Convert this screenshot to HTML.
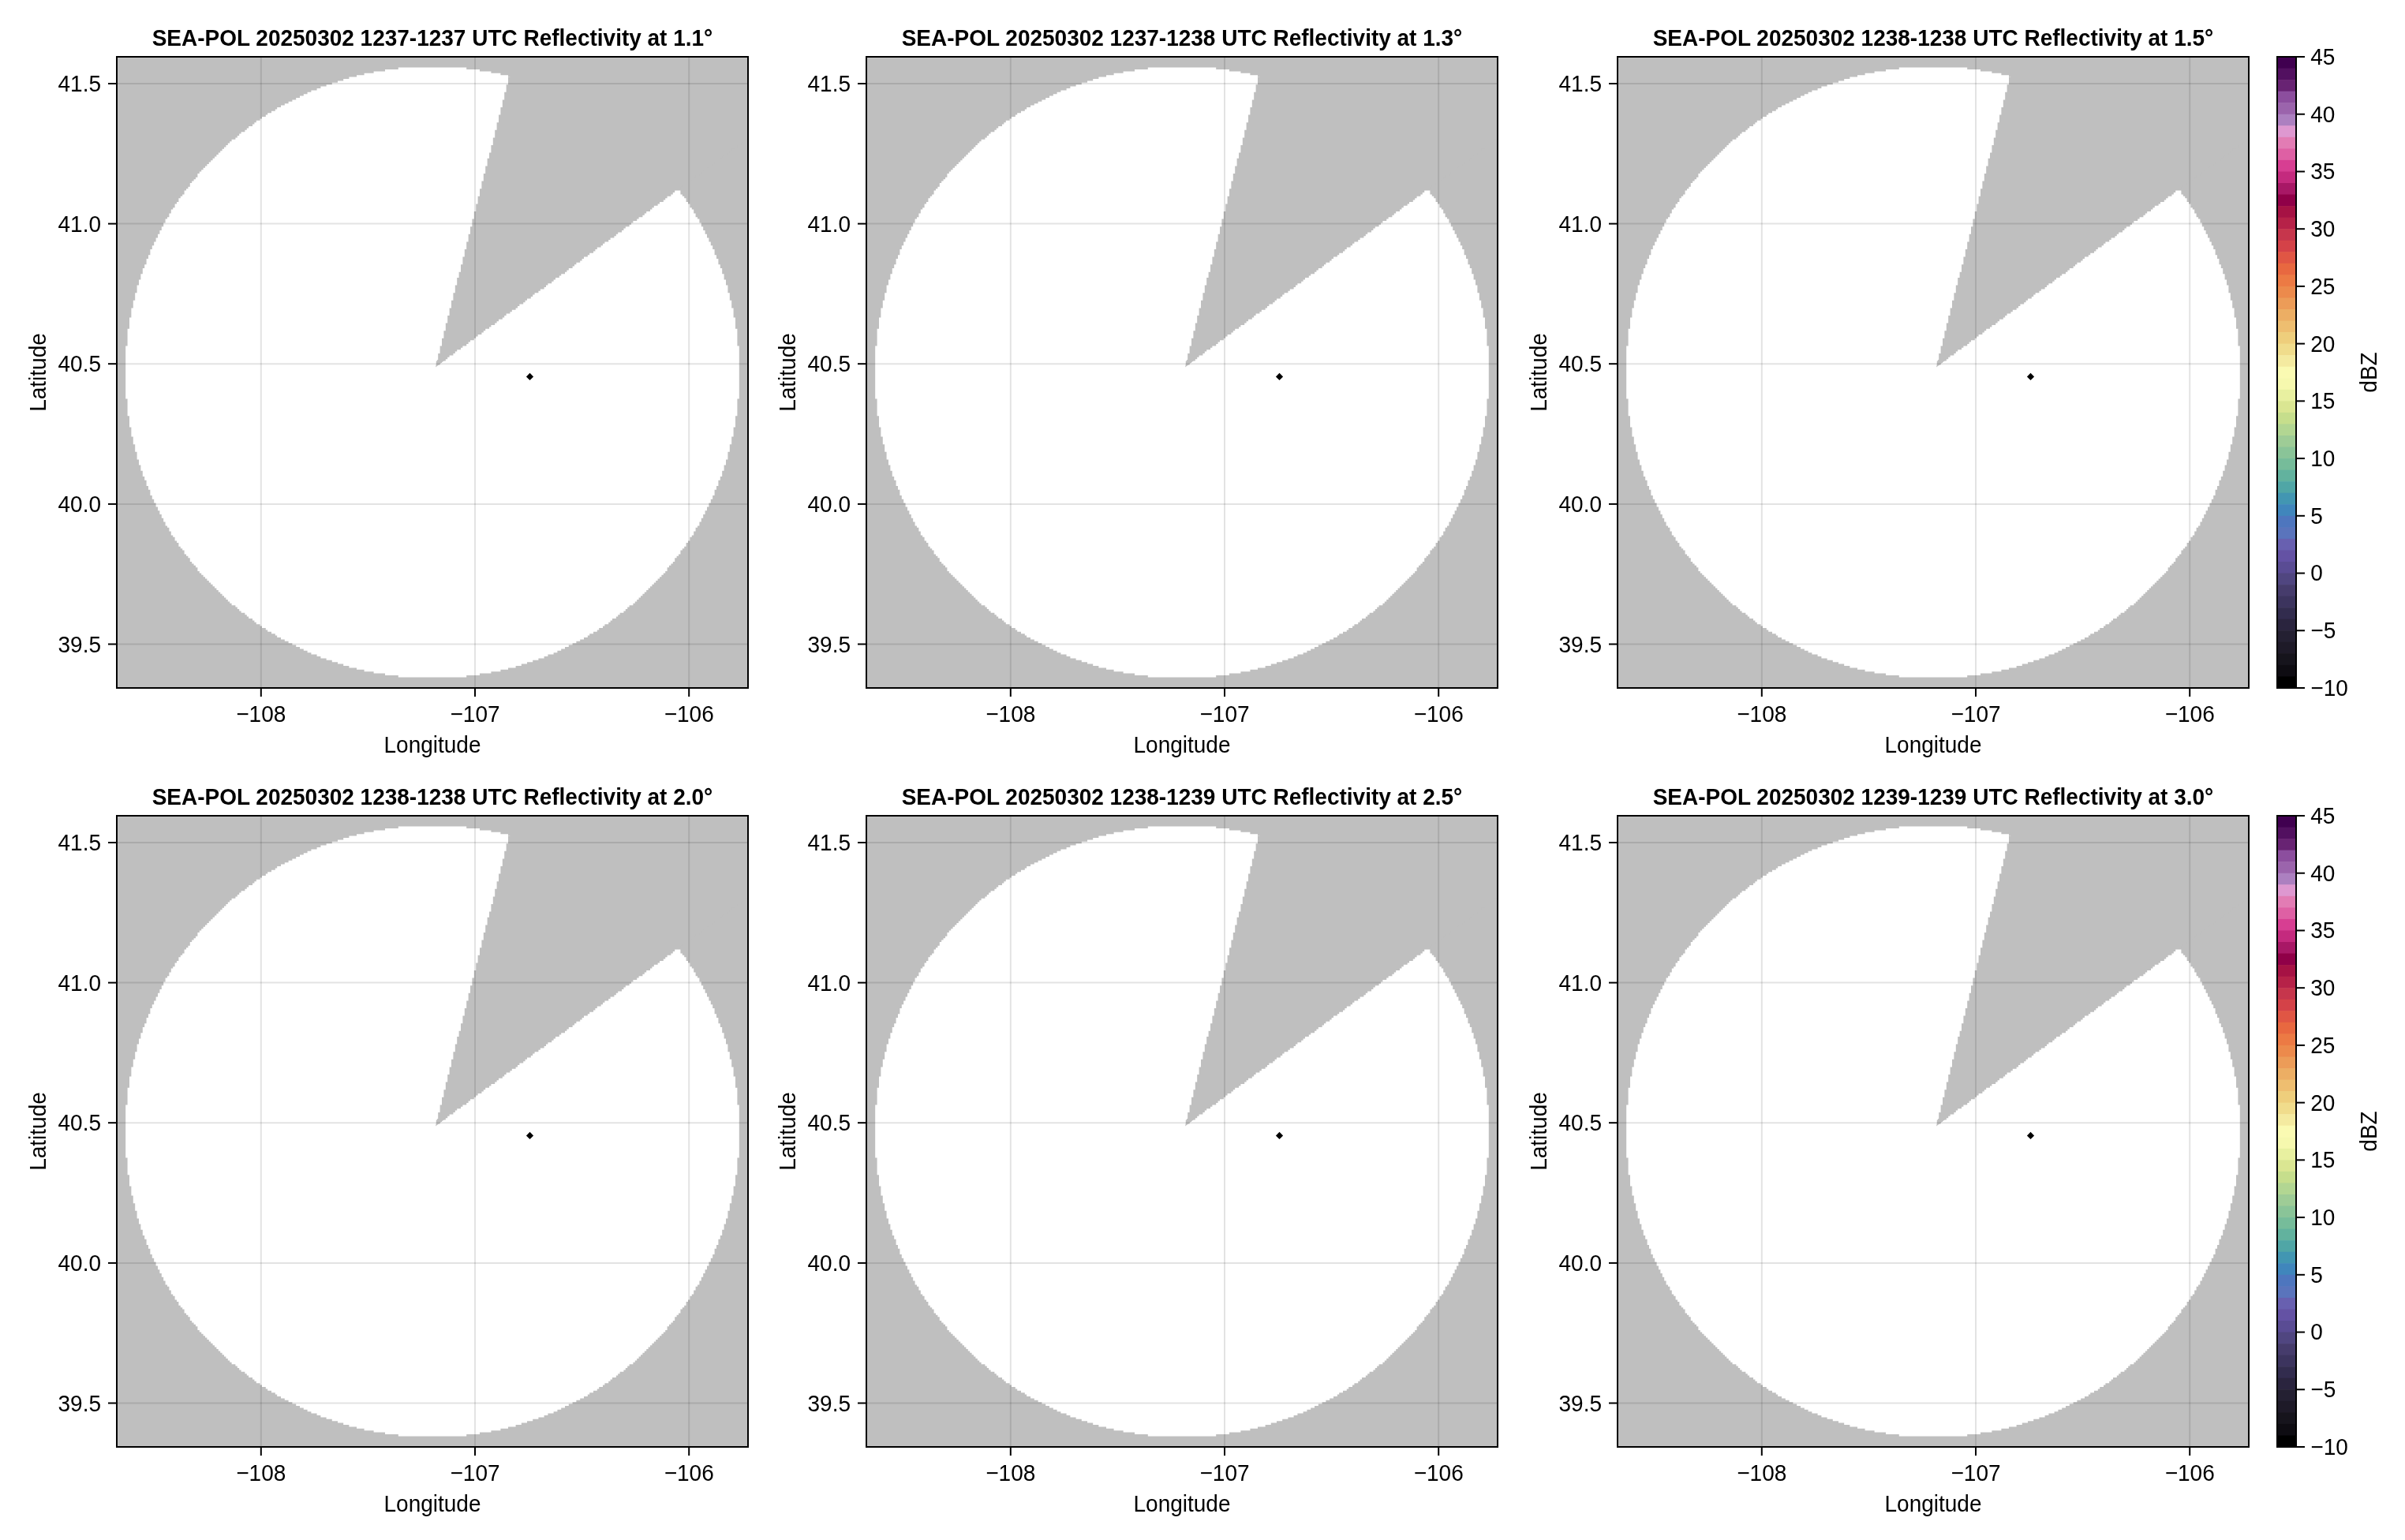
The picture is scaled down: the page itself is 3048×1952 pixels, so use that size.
<!DOCTYPE html>
<html><head><meta charset="utf-8"><title>SEA-POL Reflectivity</title>
<style>
html,body{margin:0;padding:0;background:#fff;}
body{width:3048px;height:1952px;overflow:hidden;font-family:"Liberation Sans", sans-serif;}
svg{display:block;font-family:"Liberation Sans", sans-serif;will-change:transform;}
.t{font-size:28px;font-weight:bold;text-anchor:middle;fill:#000;}
.l{font-size:28px;text-anchor:middle;fill:#000;}
.yt{font-size:28px;text-anchor:end;fill:#000;}
.xt{font-size:28px;text-anchor:middle;fill:#000;}
.ct{font-size:28px;text-anchor:start;fill:#000;}
</style></head><body>
<svg width="3048" height="1952" viewBox="0 0 3048 1952">
<rect x="0" y="0" width="3048" height="1952" fill="#ffffff"/>
<defs>
<clipPath id="pc"><rect x="0" y="0" width="800" height="800"/></clipPath>
<g id="wr" clip-path="url(#pc)"><path d="M356.8,13.6V16H340V18.4H325.6V20.8H313.6V23.2H304V25.6H294.4V28H287.2V30.4H280V32.8H272.8V35.2H265.6V37.6H258.4V40H253.6V42.4H246.4V44.8H241.6V47.2H236.8V49.6H232V52H227.2V54.4H222.4V56.8H217.6V59.2H212.8V61.6H208V64H203.2V66.4H200.8V68.8H196V71.2H191.2V73.6H188.8V76H184V78.4H181.6V80.8H176.8V83.2H174.4V85.6H172V88H167.2V90.4H164.8V92.8H162.4V95.2H157.6V97.6H155.2V100H152.8V102.4H150.4V104.8H145.6V107.2H143.2V109.6H140.8V112H138.4V114.4H136V116.8H133.6V119.2H131.2V121.6H128.8V124H126.4V126.4H124V128.8H121.6V131.2H119.2V133.6H116.8V136H114.4V138.4H112V140.8H109.6V143.2H107.2V145.6H104.8V148H102.4V150.4V152.8H100V155.2H97.6V157.6H95.2V160H92.8V162.4V164.8H90.4V167.2H88V169.6H85.6V172V174.4H83.2V176.8H80.8V179.2H78.4V181.6V184H76V186.4H73.6V188.8V191.2H71.2V193.6H68.8V196V198.4H66.4V200.8V203.2H64V205.6H61.6V208V210.4H59.2V212.8V215.2H56.8V217.6V220H54.4V222.4V224.8H52V227.2V229.6H49.6V232V234.4H47.2V236.8V239.2H44.8V241.6V244H42.4V246.4V248.8V251.2H40V253.6V256H37.6V258.4V260.8V263.2H35.2V265.6V268H32.8V270.4V272.8V275.2H30.4V277.6V280V282.4H28V284.8V287.2V289.6H25.6V292V294.4V296.8V299.2H23.2V301.6V304V306.4V308.8H20.8V311.2V313.6V316V318.4H18.4V320.8V323.2V325.6V328V330.4H16V332.8V335.2V337.6V340V342.4V344.8H13.6V347.2V349.6V352V354.4V356.8V359.2V361.6V364V366.4H11.2V368.8V371.2V373.6V376V378.4V380.8V383.2V385.6V388V390.4V392.8V395.2V397.6V400V402.4V404.8V407.2V409.6V412V414.4V416.8V419.2V421.6V424V426.4V428.8V431.2V433.6H13.6V436V438.4V440.8V443.2V445.6V448V450.4V452.8V455.2H16V457.6V460V462.4V464.8V467.2V469.6H18.4V472V474.4V476.8V479.2V481.6H20.8V484V486.4V488.8V491.2H23.2V493.6V496V498.4V500.8H25.6V503.2V505.6V508V510.4H28V512.8V515.2V517.6H30.4V520V522.4V524.8H32.8V527.2V529.6V532H35.2V534.4V536.8H37.6V539.2V541.6V544H40V546.4V548.8H42.4V551.2V553.6V556H44.8V558.4V560.8H47.2V563.2V565.6H49.6V568V570.4H52V572.8V575.2H54.4V577.6V580H56.8V582.4V584.8H59.2V587.2V589.6H61.6V592V594.4H64V596.8H66.4V599.2V601.6H68.8V604V606.4H71.2V608.8H73.6V611.2V613.6H76V616H78.4V618.4V620.8H80.8V623.2H83.2V625.6H85.6V628V630.4H88V632.8H90.4V635.2H92.8V637.6V640H95.2V642.4H97.6V644.8H100V647.2H102.4V649.6V652H104.8V654.4H107.2V656.8H109.6V659.2H112V661.6H114.4V664H116.8V666.4H119.2V668.8H121.6V671.2H124V673.6H126.4V676H128.8V678.4H131.2V680.8H133.6V683.2H136V685.6H138.4V688H140.8V690.4H143.2V692.8H145.6V695.2H150.4V697.6H152.8V700H155.2V702.4H157.6V704.8H162.4V707.2H164.8V709.6H167.2V712H172V714.4H174.4V716.8H176.8V719.2H181.6V721.6H184V724H188.8V726.4H191.2V728.8H196V731.2H200.8V733.6H203.2V736H208V738.4H212.8V740.8H217.6V743.2H222.4V745.6H227.2V748H232V750.4H236.8V752.8H241.6V755.2H246.4V757.6H253.6V760H258.4V762.4H265.6V764.8H272.8V767.2H280V769.6H287.2V772H294.4V774.4H304V776.8H313.6V779.2H325.6V781.6H340V784H356.8V786.4H443.2V784H460V781.6H474.4V779.2H486.4V776.8H496V774.4H505.6V772H512.8V769.6H520V767.2H527.2V764.8H534.4V762.4H541.6V760H546.4V757.6H553.6V755.2H558.4V752.8H563.2V750.4H568V748H572.8V745.6H577.6V743.2H582.4V740.8H587.2V738.4H592V736H596.8V733.6H599.2V731.2H604V728.8H608.8V726.4H611.2V724H616V721.6H618.4V719.2H623.2V716.8H625.6V714.4H628V712H632.8V709.6H635.2V707.2H637.6V704.8H642.4V702.4H644.8V700H647.2V697.6H649.6V695.2H654.4V692.8H656.8V690.4H659.2V688H661.6V685.6H664V683.2H666.4V680.8H668.8V678.4H671.2V676H673.6V673.6H676V671.2H678.4V668.8H680.8V666.4H683.2V664H685.6V661.6H688V659.2H690.4V656.8H692.8V654.4H695.2V652H697.6V649.6V647.2H700V644.8H702.4V642.4H704.8V640H707.2V637.6V635.2H709.6V632.8H712V630.4H714.4V628V625.6H716.8V623.2H719.2V620.8H721.6V618.4V616H724V613.6H726.4V611.2V608.8H728.8V606.4H731.2V604V601.6H733.6V599.2V596.8H736V594.4H738.4V592V589.6H740.8V587.2V584.8H743.2V582.4V580H745.6V577.6V575.2H748V572.8V570.4H750.4V568V565.6H752.8V563.2V560.8H755.2V558.4V556H757.6V553.6V551.2V548.8H760V546.4V544H762.4V541.6V539.2V536.8H764.8V534.4V532H767.2V529.6V527.2V524.8H769.6V522.4V520V517.6H772V515.2V512.8V510.4H774.4V508V505.6V503.2V500.8H776.8V498.4V496V493.6V491.2H779.2V488.8V486.4V484V481.6H781.6V479.2V476.8V474.4V472V469.6H784V467.2V464.8V462.4V460V457.6V455.2H786.4V452.8V450.4V448V445.6V443.2V440.8V438.4V436V433.6H788.8V431.2V428.8V426.4V424V421.6V419.2V416.8V414.4V412V409.6V407.2V404.8V402.4V400V397.6V395.2V392.8V390.4V388V385.6V383.2V380.8V378.4V376V373.6V371.2V368.8V366.4H786.4V364V361.6V359.2V356.8V354.4V352V349.6V347.2V344.8H784V342.4V340V337.6V335.2V332.8V330.4H781.6V328V325.6V323.2V320.8V318.4H779.2V316V313.6V311.2V308.8H776.8V306.4V304V301.6V299.2H774.4V296.8V294.4V292V289.6H772V287.2V284.8V282.4H769.6V280V277.6V275.2H767.2V272.8V270.4V268H764.8V265.6V263.2H762.4V260.8V258.4V256H760V253.6V251.2H757.6V248.8V246.4V244H755.2V241.6V239.2H752.8V236.8V234.4H750.4V232V229.6H748V227.2V224.8H745.6V222.4V220H743.2V217.6V215.2H740.8V212.8V210.4H738.4V208V205.6H736V203.2H733.6V200.8V198.4H731.2V196V193.6H728.8V191.2H726.4V188.8V186.4H724V184H721.6V181.6V179.2H719.2V176.8H716.8V174.4H714.4V172V169.6H712V167.2H709.6V164.8H707.2V162.4V160H704.8V157.6H702.4V155.2H700V152.8H697.6V150.4V148H695.2V145.6H692.8V143.2H690.4V140.8H688V138.4H685.6V136H683.2V133.6H680.8V131.2H678.4V128.8H676V126.4H673.6V124H671.2V121.6H668.8V119.2H666.4V116.8H664V114.4H661.6V112H659.2V109.6H656.8V107.2H654.4V104.8H649.6V102.4H647.2V100H644.8V97.6H642.4V95.2H637.6V92.8H635.2V90.4H632.8V88H628V85.6H625.6V83.2H623.2V80.8H618.4V78.4H616V76H611.2V73.6H608.8V71.2H604V68.8H599.2V66.4H596.8V64H592V61.6H587.2V59.2H582.4V56.8H577.6V54.4H572.8V52H568V49.6H563.2V47.2H558.4V44.8H553.6V42.4H546.4V40H541.6V37.6H534.4V35.2H527.2V32.8H520V30.4H512.8V28H505.6V25.6H496V23.2H486.4V20.8H474.4V18.4H460V16H443.2V13.6Z" fill="#ffffff"/><path d="M500.8,6.4V8.8V11.2V13.6V16H498.4V18.4V20.8V23.2V25.6H496V28V30.4V32.8V35.2H493.6V37.6V40V42.4V44.8H491.2V47.2V49.6V52V54.4H488.8V56.8V59.2V61.6V64H486.4V66.4V68.8V71.2V73.6H484V76V78.4V80.8V83.2H481.6V85.6V88V90.4V92.8H479.2V95.2V97.6V100V102.4H476.8V104.8V107.2V109.6V112H474.4V114.4V116.8V119.2V121.6H472V124V126.4V128.8H469.6V131.2V133.6V136V138.4H467.2V140.8V143.2V145.6V148H464.8V150.4V152.8V155.2V157.6H462.4V160V162.4V164.8V167.2H460V169.6V172V174.4V176.8H457.6V179.2V181.6V184V186.4H455.2V188.8V191.2V193.6V196H452.8V198.4V200.8V203.2V205.6H450.4V208V210.4V212.8V215.2H448V217.6V220V222.4V224.8H445.6V227.2V229.6V232V234.4H443.2V236.8V239.2V241.6V244H440.8V246.4V248.8V251.2V253.6H438.4V256V258.4V260.8V263.2H436V265.6V268V270.4V272.8H433.6V275.2V277.6V280H431.2V282.4V284.8V287.2V289.6H428.8V292V294.4V296.8V299.2H426.4V301.6V304V306.4V308.8H424V311.2V313.6V316V318.4H421.6V320.8V323.2V325.6V328H419.2V330.4V332.8V335.2V337.6H416.8V340V342.4V344.8V347.2H414.4V349.6V352V354.4V356.8H412V359.2V361.6V364V366.4H409.6V368.8V371.2V373.6V376H407.2V378.4V380.8V383.2V385.6H404.8V388V390.4H409.6V388H412V385.6H416.8V383.2H419.2V380.8H421.6V378.4H426.4V376H428.8V373.6H431.2V371.2H436V368.8H438.4V366.4H443.2V364H445.6V361.6H448V359.2H452.8V356.8H455.2V354.4H457.6V352H462.4V349.6H464.8V347.2H467.2V344.8H472V342.4H474.4V340H479.2V337.6H481.6V335.2H484V332.8H488.8V330.4H491.2V328H493.6V325.6H498.4V323.2H500.8V320.8H505.6V318.4H508V316H510.4V313.6H515.2V311.2H517.6V308.8H520V306.4H524.8V304H527.2V301.6H529.6V299.2H534.4V296.8H536.8V294.4H541.6V292H544V289.6H546.4V287.2H551.2V284.8H553.6V282.4H556V280H560.8V277.6H563.2V275.2H568V272.8H570.4V270.4H572.8V268H577.6V265.6H580V263.2H582.4V260.8H587.2V258.4H589.6V256H592V253.6H596.8V251.2H599.2V248.8H604V246.4H606.4V244H608.8V241.6H613.6V239.2H616V236.8H618.4V234.4H623.2V232H625.6V229.6H630.4V227.2H632.8V224.8H635.2V222.4H640V220H642.4V217.6H644.8V215.2H649.6V212.8H652V210.4H654.4V208H659.2V205.6H661.6V203.2H666.4V200.8H668.8V198.4H671.2V196H676V193.6H678.4V191.2H680.8V188.8H685.6V186.4H688V184H692.8V181.6H695.2V179.2H697.6V176.8H702.4V174.4H704.8V172H707.2V169.6H712V167.2H714.4V164.8H716.8V162.4H721.6V160H724V157.6H728.8V155.2H731.2V152.8H733.6V150.4H738.4V148H740.8V145.6H743.2V143.2H748V140.8H750.4V138.4H755.2V136H757.6V133.6H760V131.2H764.8V128.8H767.2V126.4H769.6V124H774.4V121.6H776.8V119.2H779.2V116.8H784V114.4H786.4V112H791.2V109.6H793.6V107.2H796V104.8H800.8V102.4H803.2V100H805.6V97.6H810.4V95.2H812.8V92.8H817.6V90.4H820V88H822.4V85.6H827.2V83.2H829.6V80.8H832V78.4H836.8V76H839.2V73.6H841.6V71.2H846.4V68.8H848.8V66.4H853.6V64H856V61.6H858.4V59.2H863.2V56.8H865.6V54.4H868V52H872.8V49.6H875.2V47.2H880V44.8H882.4V42.4H884.8V40H889.6V37.6H892V35.2H894.4V32.8H899.2V30.4H901.6V28H904V25.6H908.8V23.2H911.2V20.8H916V18.4H918.4V16H920.8V13.6H925.6V11.2H928V8.8H930.4V6.4Z" fill="#bfbfbf"/><path d="M404.0,393.5 L406.29,384.00 L416.31,384.00 Z" fill="#bfbfbf"/></g>
</defs>
<g transform="translate(148,72)">
<rect x="0" y="0" width="800" height="800" fill="#bfbfbf"/>
<use href="#wr"/>
<line x1="182.8" y1="0" x2="182.8" y2="800" stroke="rgba(0,0,0,0.11)" stroke-width="2"/>
<line x1="454.0" y1="0" x2="454.0" y2="800" stroke="rgba(0,0,0,0.11)" stroke-width="2"/>
<line x1="725.2" y1="0" x2="725.2" y2="800" stroke="rgba(0,0,0,0.11)" stroke-width="2"/>
<line x1="0" y1="34.0" x2="800" y2="34.0" stroke="rgba(0,0,0,0.11)" stroke-width="2"/>
<line x1="0" y1="211.6" x2="800" y2="211.6" stroke="rgba(0,0,0,0.11)" stroke-width="2"/>
<line x1="0" y1="389.2" x2="800" y2="389.2" stroke="rgba(0,0,0,0.11)" stroke-width="2"/>
<line x1="0" y1="566.9" x2="800" y2="566.9" stroke="rgba(0,0,0,0.11)" stroke-width="2"/>
<line x1="0" y1="744.5" x2="800" y2="744.5" stroke="rgba(0,0,0,0.11)" stroke-width="2"/>
<path d="M518.9,405.4 L523.5,400.79999999999995 L528.1,405.4 L523.5,410.0 Z" fill="#000"/>
<rect x="0" y="0" width="800" height="800" fill="none" stroke="#000" stroke-width="2"/>
<line x1="182.8" y1="801" x2="182.8" y2="811" stroke="#000" stroke-width="2"/>
<text class="xt" transform="translate(182.8,842.7) scale(1,1.04)">−108</text>
<line x1="454.0" y1="801" x2="454.0" y2="811" stroke="#000" stroke-width="2"/>
<text class="xt" transform="translate(454,842.7) scale(1,1.04)">−107</text>
<line x1="725.2" y1="801" x2="725.2" y2="811" stroke="#000" stroke-width="2"/>
<text class="xt" transform="translate(725.2,842.7) scale(1,1.04)">−106</text>
<line x1="-11" y1="34.0" x2="-1" y2="34.0" stroke="#000" stroke-width="2"/>
<text class="yt" transform="translate(-20,44) scale(1,1.04)">41.5</text>
<line x1="-11" y1="211.6" x2="-1" y2="211.6" stroke="#000" stroke-width="2"/>
<text class="yt" transform="translate(-20,221.6) scale(1,1.04)">41.0</text>
<line x1="-11" y1="389.2" x2="-1" y2="389.2" stroke="#000" stroke-width="2"/>
<text class="yt" transform="translate(-20,399.2) scale(1,1.04)">40.5</text>
<line x1="-11" y1="566.9" x2="-1" y2="566.9" stroke="#000" stroke-width="2"/>
<text class="yt" transform="translate(-20,576.9) scale(1,1.04)">40.0</text>
<line x1="-11" y1="744.5" x2="-1" y2="744.5" stroke="#000" stroke-width="2"/>
<text class="yt" transform="translate(-20,754.5) scale(1,1.04)">39.5</text>
<text class="t" transform="translate(400,-14.1) scale(1,1.04)">SEA-POL 20250302 1237-1237 UTC Reflectivity at 1.1°</text>
<text class="l" transform="translate(400,881.6) scale(1,1.04)">Longitude</text>
<text class="l" transform="translate(-90.3,400) rotate(-90) scale(1,1.04)">Latitude</text>
</g>
<g transform="translate(1098,72)">
<rect x="0" y="0" width="800" height="800" fill="#bfbfbf"/>
<use href="#wr"/>
<line x1="182.8" y1="0" x2="182.8" y2="800" stroke="rgba(0,0,0,0.11)" stroke-width="2"/>
<line x1="454.0" y1="0" x2="454.0" y2="800" stroke="rgba(0,0,0,0.11)" stroke-width="2"/>
<line x1="725.2" y1="0" x2="725.2" y2="800" stroke="rgba(0,0,0,0.11)" stroke-width="2"/>
<line x1="0" y1="34.0" x2="800" y2="34.0" stroke="rgba(0,0,0,0.11)" stroke-width="2"/>
<line x1="0" y1="211.6" x2="800" y2="211.6" stroke="rgba(0,0,0,0.11)" stroke-width="2"/>
<line x1="0" y1="389.2" x2="800" y2="389.2" stroke="rgba(0,0,0,0.11)" stroke-width="2"/>
<line x1="0" y1="566.9" x2="800" y2="566.9" stroke="rgba(0,0,0,0.11)" stroke-width="2"/>
<line x1="0" y1="744.5" x2="800" y2="744.5" stroke="rgba(0,0,0,0.11)" stroke-width="2"/>
<path d="M518.9,405.4 L523.5,400.79999999999995 L528.1,405.4 L523.5,410.0 Z" fill="#000"/>
<rect x="0" y="0" width="800" height="800" fill="none" stroke="#000" stroke-width="2"/>
<line x1="182.8" y1="801" x2="182.8" y2="811" stroke="#000" stroke-width="2"/>
<text class="xt" transform="translate(182.8,842.7) scale(1,1.04)">−108</text>
<line x1="454.0" y1="801" x2="454.0" y2="811" stroke="#000" stroke-width="2"/>
<text class="xt" transform="translate(454,842.7) scale(1,1.04)">−107</text>
<line x1="725.2" y1="801" x2="725.2" y2="811" stroke="#000" stroke-width="2"/>
<text class="xt" transform="translate(725.2,842.7) scale(1,1.04)">−106</text>
<line x1="-11" y1="34.0" x2="-1" y2="34.0" stroke="#000" stroke-width="2"/>
<text class="yt" transform="translate(-20,44) scale(1,1.04)">41.5</text>
<line x1="-11" y1="211.6" x2="-1" y2="211.6" stroke="#000" stroke-width="2"/>
<text class="yt" transform="translate(-20,221.6) scale(1,1.04)">41.0</text>
<line x1="-11" y1="389.2" x2="-1" y2="389.2" stroke="#000" stroke-width="2"/>
<text class="yt" transform="translate(-20,399.2) scale(1,1.04)">40.5</text>
<line x1="-11" y1="566.9" x2="-1" y2="566.9" stroke="#000" stroke-width="2"/>
<text class="yt" transform="translate(-20,576.9) scale(1,1.04)">40.0</text>
<line x1="-11" y1="744.5" x2="-1" y2="744.5" stroke="#000" stroke-width="2"/>
<text class="yt" transform="translate(-20,754.5) scale(1,1.04)">39.5</text>
<text class="t" transform="translate(400,-14.1) scale(1,1.04)">SEA-POL 20250302 1237-1238 UTC Reflectivity at 1.3°</text>
<text class="l" transform="translate(400,881.6) scale(1,1.04)">Longitude</text>
<text class="l" transform="translate(-90.3,400) rotate(-90) scale(1,1.04)">Latitude</text>
</g>
<g transform="translate(2050,72)">
<rect x="0" y="0" width="800" height="800" fill="#bfbfbf"/>
<use href="#wr"/>
<line x1="182.8" y1="0" x2="182.8" y2="800" stroke="rgba(0,0,0,0.11)" stroke-width="2"/>
<line x1="454.0" y1="0" x2="454.0" y2="800" stroke="rgba(0,0,0,0.11)" stroke-width="2"/>
<line x1="725.2" y1="0" x2="725.2" y2="800" stroke="rgba(0,0,0,0.11)" stroke-width="2"/>
<line x1="0" y1="34.0" x2="800" y2="34.0" stroke="rgba(0,0,0,0.11)" stroke-width="2"/>
<line x1="0" y1="211.6" x2="800" y2="211.6" stroke="rgba(0,0,0,0.11)" stroke-width="2"/>
<line x1="0" y1="389.2" x2="800" y2="389.2" stroke="rgba(0,0,0,0.11)" stroke-width="2"/>
<line x1="0" y1="566.9" x2="800" y2="566.9" stroke="rgba(0,0,0,0.11)" stroke-width="2"/>
<line x1="0" y1="744.5" x2="800" y2="744.5" stroke="rgba(0,0,0,0.11)" stroke-width="2"/>
<path d="M518.9,405.4 L523.5,400.79999999999995 L528.1,405.4 L523.5,410.0 Z" fill="#000"/>
<rect x="0" y="0" width="800" height="800" fill="none" stroke="#000" stroke-width="2"/>
<line x1="182.8" y1="801" x2="182.8" y2="811" stroke="#000" stroke-width="2"/>
<text class="xt" transform="translate(182.8,842.7) scale(1,1.04)">−108</text>
<line x1="454.0" y1="801" x2="454.0" y2="811" stroke="#000" stroke-width="2"/>
<text class="xt" transform="translate(454,842.7) scale(1,1.04)">−107</text>
<line x1="725.2" y1="801" x2="725.2" y2="811" stroke="#000" stroke-width="2"/>
<text class="xt" transform="translate(725.2,842.7) scale(1,1.04)">−106</text>
<line x1="-11" y1="34.0" x2="-1" y2="34.0" stroke="#000" stroke-width="2"/>
<text class="yt" transform="translate(-20,44) scale(1,1.04)">41.5</text>
<line x1="-11" y1="211.6" x2="-1" y2="211.6" stroke="#000" stroke-width="2"/>
<text class="yt" transform="translate(-20,221.6) scale(1,1.04)">41.0</text>
<line x1="-11" y1="389.2" x2="-1" y2="389.2" stroke="#000" stroke-width="2"/>
<text class="yt" transform="translate(-20,399.2) scale(1,1.04)">40.5</text>
<line x1="-11" y1="566.9" x2="-1" y2="566.9" stroke="#000" stroke-width="2"/>
<text class="yt" transform="translate(-20,576.9) scale(1,1.04)">40.0</text>
<line x1="-11" y1="744.5" x2="-1" y2="744.5" stroke="#000" stroke-width="2"/>
<text class="yt" transform="translate(-20,754.5) scale(1,1.04)">39.5</text>
<text class="t" transform="translate(400,-14.1) scale(1,1.04)">SEA-POL 20250302 1238-1238 UTC Reflectivity at 1.5°</text>
<text class="l" transform="translate(400,881.6) scale(1,1.04)">Longitude</text>
<text class="l" transform="translate(-90.3,400) rotate(-90) scale(1,1.04)">Latitude</text>
</g>
<g transform="translate(2886,72)">
<rect x="0" y="0.000" width="24" height="15.145" fill="rgb(64,0,80)"/>
<rect x="0" y="14.545" width="24" height="15.145" fill="rgb(82,16,96)"/>
<rect x="0" y="29.091" width="24" height="15.145" fill="rgb(104,35,115)"/>
<rect x="0" y="43.636" width="24" height="15.145" fill="rgb(140,78,158)"/>
<rect x="0" y="58.182" width="24" height="15.145" fill="rgb(155,100,172)"/>
<rect x="0" y="72.727" width="24" height="15.145" fill="rgb(172,128,192)"/>
<rect x="0" y="87.273" width="24" height="15.145" fill="rgb(222,152,208)"/>
<rect x="0" y="101.818" width="24" height="15.145" fill="rgb(226,124,180)"/>
<rect x="0" y="116.364" width="24" height="15.145" fill="rgb(222,96,164)"/>
<rect x="0" y="130.909" width="24" height="15.145" fill="rgb(215,62,146)"/>
<rect x="0" y="145.455" width="24" height="15.145" fill="rgb(196,42,126)"/>
<rect x="0" y="160.000" width="24" height="15.145" fill="rgb(168,24,102)"/>
<rect x="0" y="174.545" width="24" height="15.145" fill="rgb(144,0,72)"/>
<rect x="0" y="189.091" width="24" height="15.145" fill="rgb(166,18,68)"/>
<rect x="0" y="203.636" width="24" height="15.145" fill="rgb(182,34,72)"/>
<rect x="0" y="218.182" width="24" height="15.145" fill="rgb(198,54,76)"/>
<rect x="0" y="232.727" width="24" height="15.145" fill="rgb(212,66,72)"/>
<rect x="0" y="247.273" width="24" height="15.145" fill="rgb(224,86,68)"/>
<rect x="0" y="261.818" width="24" height="15.145" fill="rgb(232,104,64)"/>
<rect x="0" y="276.364" width="24" height="15.145" fill="rgb(236,122,68)"/>
<rect x="0" y="290.909" width="24" height="15.145" fill="rgb(236,138,76)"/>
<rect x="0" y="305.455" width="24" height="15.145" fill="rgb(236,156,88)"/>
<rect x="0" y="320.000" width="24" height="15.145" fill="rgb(236,174,100)"/>
<rect x="0" y="334.545" width="24" height="15.145" fill="rgb(238,190,112)"/>
<rect x="0" y="349.091" width="24" height="15.145" fill="rgb(238,206,124)"/>
<rect x="0" y="363.636" width="24" height="15.145" fill="rgb(240,220,140)"/>
<rect x="0" y="378.182" width="24" height="15.145" fill="rgb(244,234,160)"/>
<rect x="0" y="392.727" width="24" height="15.145" fill="rgb(250,250,178)"/>
<rect x="0" y="407.273" width="24" height="15.145" fill="rgb(246,248,174)"/>
<rect x="0" y="421.818" width="24" height="15.145" fill="rgb(232,240,160)"/>
<rect x="0" y="436.364" width="24" height="15.145" fill="rgb(218,230,146)"/>
<rect x="0" y="450.909" width="24" height="15.145" fill="rgb(198,222,140)"/>
<rect x="0" y="465.455" width="24" height="15.145" fill="rgb(178,214,146)"/>
<rect x="0" y="480.000" width="24" height="15.145" fill="rgb(158,204,150)"/>
<rect x="0" y="494.545" width="24" height="15.145" fill="rgb(138,196,152)"/>
<rect x="0" y="509.091" width="24" height="15.145" fill="rgb(118,188,154)"/>
<rect x="0" y="523.636" width="24" height="15.145" fill="rgb(98,178,158)"/>
<rect x="0" y="538.182" width="24" height="15.145" fill="rgb(80,166,166)"/>
<rect x="0" y="552.727" width="24" height="15.145" fill="rgb(66,150,178)"/>
<rect x="0" y="567.273" width="24" height="15.145" fill="rgb(64,134,188)"/>
<rect x="0" y="581.818" width="24" height="15.145" fill="rgb(78,118,190)"/>
<rect x="0" y="596.364" width="24" height="15.145" fill="rgb(90,116,188)"/>
<rect x="0" y="610.909" width="24" height="15.145" fill="rgb(104,96,176)"/>
<rect x="0" y="625.455" width="24" height="15.145" fill="rgb(100,82,164)"/>
<rect x="0" y="640.000" width="24" height="15.145" fill="rgb(90,76,148)"/>
<rect x="0" y="654.545" width="24" height="15.145" fill="rgb(80,70,128)"/>
<rect x="0" y="669.091" width="24" height="15.145" fill="rgb(70,60,108)"/>
<rect x="0" y="683.636" width="24" height="15.145" fill="rgb(60,52,94)"/>
<rect x="0" y="698.182" width="24" height="15.145" fill="rgb(50,44,78)"/>
<rect x="0" y="712.727" width="24" height="15.145" fill="rgb(42,36,62)"/>
<rect x="0" y="727.273" width="24" height="15.145" fill="rgb(36,32,50)"/>
<rect x="0" y="741.818" width="24" height="15.145" fill="rgb(30,26,40)"/>
<rect x="0" y="756.364" width="24" height="15.145" fill="rgb(22,20,28)"/>
<rect x="0" y="770.909" width="24" height="15.145" fill="rgb(14,12,18)"/>
<rect x="0" y="785.455" width="24" height="15.145" fill="rgb(0,0,0)"/>
<rect x="0" y="0" width="24" height="800" fill="none" stroke="#000" stroke-width="2"/>
<line x1="25" y1="0.000" x2="35" y2="0.000" stroke="#000" stroke-width="2"/>
<text class="ct" transform="translate(42.3,9.9) scale(1,1.04)">45</text>
<line x1="25" y1="72.727" x2="35" y2="72.727" stroke="#000" stroke-width="2"/>
<text class="ct" transform="translate(42.3,82.63) scale(1,1.04)">40</text>
<line x1="25" y1="145.455" x2="35" y2="145.455" stroke="#000" stroke-width="2"/>
<text class="ct" transform="translate(42.3,155.35) scale(1,1.04)">35</text>
<line x1="25" y1="218.182" x2="35" y2="218.182" stroke="#000" stroke-width="2"/>
<text class="ct" transform="translate(42.3,228.08) scale(1,1.04)">30</text>
<line x1="25" y1="290.909" x2="35" y2="290.909" stroke="#000" stroke-width="2"/>
<text class="ct" transform="translate(42.3,300.81) scale(1,1.04)">25</text>
<line x1="25" y1="363.636" x2="35" y2="363.636" stroke="#000" stroke-width="2"/>
<text class="ct" transform="translate(42.3,373.54) scale(1,1.04)">20</text>
<line x1="25" y1="436.364" x2="35" y2="436.364" stroke="#000" stroke-width="2"/>
<text class="ct" transform="translate(42.3,446.26) scale(1,1.04)">15</text>
<line x1="25" y1="509.091" x2="35" y2="509.091" stroke="#000" stroke-width="2"/>
<text class="ct" transform="translate(42.3,518.99) scale(1,1.04)">10</text>
<line x1="25" y1="581.818" x2="35" y2="581.818" stroke="#000" stroke-width="2"/>
<text class="ct" transform="translate(42.3,591.72) scale(1,1.04)">5</text>
<line x1="25" y1="654.545" x2="35" y2="654.545" stroke="#000" stroke-width="2"/>
<text class="ct" transform="translate(42.3,664.45) scale(1,1.04)">0</text>
<line x1="25" y1="727.273" x2="35" y2="727.273" stroke="#000" stroke-width="2"/>
<text class="ct" transform="translate(42.3,737.17) scale(1,1.04)">−5</text>
<line x1="25" y1="800.000" x2="35" y2="800.000" stroke="#000" stroke-width="2"/>
<text class="ct" transform="translate(42.3,809.9) scale(1,1.04)">−10</text>
<text class="l" transform="translate(126.2,400) rotate(-90) scale(1,1.04)">dBZ</text>
</g>
<g transform="translate(148,1034)">
<rect x="0" y="0" width="800" height="800" fill="#bfbfbf"/>
<use href="#wr"/>
<line x1="182.8" y1="0" x2="182.8" y2="800" stroke="rgba(0,0,0,0.11)" stroke-width="2"/>
<line x1="454.0" y1="0" x2="454.0" y2="800" stroke="rgba(0,0,0,0.11)" stroke-width="2"/>
<line x1="725.2" y1="0" x2="725.2" y2="800" stroke="rgba(0,0,0,0.11)" stroke-width="2"/>
<line x1="0" y1="34.0" x2="800" y2="34.0" stroke="rgba(0,0,0,0.11)" stroke-width="2"/>
<line x1="0" y1="211.6" x2="800" y2="211.6" stroke="rgba(0,0,0,0.11)" stroke-width="2"/>
<line x1="0" y1="389.2" x2="800" y2="389.2" stroke="rgba(0,0,0,0.11)" stroke-width="2"/>
<line x1="0" y1="566.9" x2="800" y2="566.9" stroke="rgba(0,0,0,0.11)" stroke-width="2"/>
<line x1="0" y1="744.5" x2="800" y2="744.5" stroke="rgba(0,0,0,0.11)" stroke-width="2"/>
<path d="M518.9,405.4 L523.5,400.79999999999995 L528.1,405.4 L523.5,410.0 Z" fill="#000"/>
<rect x="0" y="0" width="800" height="800" fill="none" stroke="#000" stroke-width="2"/>
<line x1="182.8" y1="801" x2="182.8" y2="811" stroke="#000" stroke-width="2"/>
<text class="xt" transform="translate(182.8,842.7) scale(1,1.04)">−108</text>
<line x1="454.0" y1="801" x2="454.0" y2="811" stroke="#000" stroke-width="2"/>
<text class="xt" transform="translate(454,842.7) scale(1,1.04)">−107</text>
<line x1="725.2" y1="801" x2="725.2" y2="811" stroke="#000" stroke-width="2"/>
<text class="xt" transform="translate(725.2,842.7) scale(1,1.04)">−106</text>
<line x1="-11" y1="34.0" x2="-1" y2="34.0" stroke="#000" stroke-width="2"/>
<text class="yt" transform="translate(-20,44) scale(1,1.04)">41.5</text>
<line x1="-11" y1="211.6" x2="-1" y2="211.6" stroke="#000" stroke-width="2"/>
<text class="yt" transform="translate(-20,221.6) scale(1,1.04)">41.0</text>
<line x1="-11" y1="389.2" x2="-1" y2="389.2" stroke="#000" stroke-width="2"/>
<text class="yt" transform="translate(-20,399.2) scale(1,1.04)">40.5</text>
<line x1="-11" y1="566.9" x2="-1" y2="566.9" stroke="#000" stroke-width="2"/>
<text class="yt" transform="translate(-20,576.9) scale(1,1.04)">40.0</text>
<line x1="-11" y1="744.5" x2="-1" y2="744.5" stroke="#000" stroke-width="2"/>
<text class="yt" transform="translate(-20,754.5) scale(1,1.04)">39.5</text>
<text class="t" transform="translate(400,-14.1) scale(1,1.04)">SEA-POL 20250302 1238-1238 UTC Reflectivity at 2.0°</text>
<text class="l" transform="translate(400,881.6) scale(1,1.04)">Longitude</text>
<text class="l" transform="translate(-90.3,400) rotate(-90) scale(1,1.04)">Latitude</text>
</g>
<g transform="translate(1098,1034)">
<rect x="0" y="0" width="800" height="800" fill="#bfbfbf"/>
<use href="#wr"/>
<line x1="182.8" y1="0" x2="182.8" y2="800" stroke="rgba(0,0,0,0.11)" stroke-width="2"/>
<line x1="454.0" y1="0" x2="454.0" y2="800" stroke="rgba(0,0,0,0.11)" stroke-width="2"/>
<line x1="725.2" y1="0" x2="725.2" y2="800" stroke="rgba(0,0,0,0.11)" stroke-width="2"/>
<line x1="0" y1="34.0" x2="800" y2="34.0" stroke="rgba(0,0,0,0.11)" stroke-width="2"/>
<line x1="0" y1="211.6" x2="800" y2="211.6" stroke="rgba(0,0,0,0.11)" stroke-width="2"/>
<line x1="0" y1="389.2" x2="800" y2="389.2" stroke="rgba(0,0,0,0.11)" stroke-width="2"/>
<line x1="0" y1="566.9" x2="800" y2="566.9" stroke="rgba(0,0,0,0.11)" stroke-width="2"/>
<line x1="0" y1="744.5" x2="800" y2="744.5" stroke="rgba(0,0,0,0.11)" stroke-width="2"/>
<path d="M518.9,405.4 L523.5,400.79999999999995 L528.1,405.4 L523.5,410.0 Z" fill="#000"/>
<rect x="0" y="0" width="800" height="800" fill="none" stroke="#000" stroke-width="2"/>
<line x1="182.8" y1="801" x2="182.8" y2="811" stroke="#000" stroke-width="2"/>
<text class="xt" transform="translate(182.8,842.7) scale(1,1.04)">−108</text>
<line x1="454.0" y1="801" x2="454.0" y2="811" stroke="#000" stroke-width="2"/>
<text class="xt" transform="translate(454,842.7) scale(1,1.04)">−107</text>
<line x1="725.2" y1="801" x2="725.2" y2="811" stroke="#000" stroke-width="2"/>
<text class="xt" transform="translate(725.2,842.7) scale(1,1.04)">−106</text>
<line x1="-11" y1="34.0" x2="-1" y2="34.0" stroke="#000" stroke-width="2"/>
<text class="yt" transform="translate(-20,44) scale(1,1.04)">41.5</text>
<line x1="-11" y1="211.6" x2="-1" y2="211.6" stroke="#000" stroke-width="2"/>
<text class="yt" transform="translate(-20,221.6) scale(1,1.04)">41.0</text>
<line x1="-11" y1="389.2" x2="-1" y2="389.2" stroke="#000" stroke-width="2"/>
<text class="yt" transform="translate(-20,399.2) scale(1,1.04)">40.5</text>
<line x1="-11" y1="566.9" x2="-1" y2="566.9" stroke="#000" stroke-width="2"/>
<text class="yt" transform="translate(-20,576.9) scale(1,1.04)">40.0</text>
<line x1="-11" y1="744.5" x2="-1" y2="744.5" stroke="#000" stroke-width="2"/>
<text class="yt" transform="translate(-20,754.5) scale(1,1.04)">39.5</text>
<text class="t" transform="translate(400,-14.1) scale(1,1.04)">SEA-POL 20250302 1238-1239 UTC Reflectivity at 2.5°</text>
<text class="l" transform="translate(400,881.6) scale(1,1.04)">Longitude</text>
<text class="l" transform="translate(-90.3,400) rotate(-90) scale(1,1.04)">Latitude</text>
</g>
<g transform="translate(2050,1034)">
<rect x="0" y="0" width="800" height="800" fill="#bfbfbf"/>
<use href="#wr"/>
<line x1="182.8" y1="0" x2="182.8" y2="800" stroke="rgba(0,0,0,0.11)" stroke-width="2"/>
<line x1="454.0" y1="0" x2="454.0" y2="800" stroke="rgba(0,0,0,0.11)" stroke-width="2"/>
<line x1="725.2" y1="0" x2="725.2" y2="800" stroke="rgba(0,0,0,0.11)" stroke-width="2"/>
<line x1="0" y1="34.0" x2="800" y2="34.0" stroke="rgba(0,0,0,0.11)" stroke-width="2"/>
<line x1="0" y1="211.6" x2="800" y2="211.6" stroke="rgba(0,0,0,0.11)" stroke-width="2"/>
<line x1="0" y1="389.2" x2="800" y2="389.2" stroke="rgba(0,0,0,0.11)" stroke-width="2"/>
<line x1="0" y1="566.9" x2="800" y2="566.9" stroke="rgba(0,0,0,0.11)" stroke-width="2"/>
<line x1="0" y1="744.5" x2="800" y2="744.5" stroke="rgba(0,0,0,0.11)" stroke-width="2"/>
<path d="M518.9,405.4 L523.5,400.79999999999995 L528.1,405.4 L523.5,410.0 Z" fill="#000"/>
<rect x="0" y="0" width="800" height="800" fill="none" stroke="#000" stroke-width="2"/>
<line x1="182.8" y1="801" x2="182.8" y2="811" stroke="#000" stroke-width="2"/>
<text class="xt" transform="translate(182.8,842.7) scale(1,1.04)">−108</text>
<line x1="454.0" y1="801" x2="454.0" y2="811" stroke="#000" stroke-width="2"/>
<text class="xt" transform="translate(454,842.7) scale(1,1.04)">−107</text>
<line x1="725.2" y1="801" x2="725.2" y2="811" stroke="#000" stroke-width="2"/>
<text class="xt" transform="translate(725.2,842.7) scale(1,1.04)">−106</text>
<line x1="-11" y1="34.0" x2="-1" y2="34.0" stroke="#000" stroke-width="2"/>
<text class="yt" transform="translate(-20,44) scale(1,1.04)">41.5</text>
<line x1="-11" y1="211.6" x2="-1" y2="211.6" stroke="#000" stroke-width="2"/>
<text class="yt" transform="translate(-20,221.6) scale(1,1.04)">41.0</text>
<line x1="-11" y1="389.2" x2="-1" y2="389.2" stroke="#000" stroke-width="2"/>
<text class="yt" transform="translate(-20,399.2) scale(1,1.04)">40.5</text>
<line x1="-11" y1="566.9" x2="-1" y2="566.9" stroke="#000" stroke-width="2"/>
<text class="yt" transform="translate(-20,576.9) scale(1,1.04)">40.0</text>
<line x1="-11" y1="744.5" x2="-1" y2="744.5" stroke="#000" stroke-width="2"/>
<text class="yt" transform="translate(-20,754.5) scale(1,1.04)">39.5</text>
<text class="t" transform="translate(400,-14.1) scale(1,1.04)">SEA-POL 20250302 1239-1239 UTC Reflectivity at 3.0°</text>
<text class="l" transform="translate(400,881.6) scale(1,1.04)">Longitude</text>
<text class="l" transform="translate(-90.3,400) rotate(-90) scale(1,1.04)">Latitude</text>
</g>
<g transform="translate(2886,1034)">
<rect x="0" y="0.000" width="24" height="15.145" fill="rgb(64,0,80)"/>
<rect x="0" y="14.545" width="24" height="15.145" fill="rgb(82,16,96)"/>
<rect x="0" y="29.091" width="24" height="15.145" fill="rgb(104,35,115)"/>
<rect x="0" y="43.636" width="24" height="15.145" fill="rgb(140,78,158)"/>
<rect x="0" y="58.182" width="24" height="15.145" fill="rgb(155,100,172)"/>
<rect x="0" y="72.727" width="24" height="15.145" fill="rgb(172,128,192)"/>
<rect x="0" y="87.273" width="24" height="15.145" fill="rgb(222,152,208)"/>
<rect x="0" y="101.818" width="24" height="15.145" fill="rgb(226,124,180)"/>
<rect x="0" y="116.364" width="24" height="15.145" fill="rgb(222,96,164)"/>
<rect x="0" y="130.909" width="24" height="15.145" fill="rgb(215,62,146)"/>
<rect x="0" y="145.455" width="24" height="15.145" fill="rgb(196,42,126)"/>
<rect x="0" y="160.000" width="24" height="15.145" fill="rgb(168,24,102)"/>
<rect x="0" y="174.545" width="24" height="15.145" fill="rgb(144,0,72)"/>
<rect x="0" y="189.091" width="24" height="15.145" fill="rgb(166,18,68)"/>
<rect x="0" y="203.636" width="24" height="15.145" fill="rgb(182,34,72)"/>
<rect x="0" y="218.182" width="24" height="15.145" fill="rgb(198,54,76)"/>
<rect x="0" y="232.727" width="24" height="15.145" fill="rgb(212,66,72)"/>
<rect x="0" y="247.273" width="24" height="15.145" fill="rgb(224,86,68)"/>
<rect x="0" y="261.818" width="24" height="15.145" fill="rgb(232,104,64)"/>
<rect x="0" y="276.364" width="24" height="15.145" fill="rgb(236,122,68)"/>
<rect x="0" y="290.909" width="24" height="15.145" fill="rgb(236,138,76)"/>
<rect x="0" y="305.455" width="24" height="15.145" fill="rgb(236,156,88)"/>
<rect x="0" y="320.000" width="24" height="15.145" fill="rgb(236,174,100)"/>
<rect x="0" y="334.545" width="24" height="15.145" fill="rgb(238,190,112)"/>
<rect x="0" y="349.091" width="24" height="15.145" fill="rgb(238,206,124)"/>
<rect x="0" y="363.636" width="24" height="15.145" fill="rgb(240,220,140)"/>
<rect x="0" y="378.182" width="24" height="15.145" fill="rgb(244,234,160)"/>
<rect x="0" y="392.727" width="24" height="15.145" fill="rgb(250,250,178)"/>
<rect x="0" y="407.273" width="24" height="15.145" fill="rgb(246,248,174)"/>
<rect x="0" y="421.818" width="24" height="15.145" fill="rgb(232,240,160)"/>
<rect x="0" y="436.364" width="24" height="15.145" fill="rgb(218,230,146)"/>
<rect x="0" y="450.909" width="24" height="15.145" fill="rgb(198,222,140)"/>
<rect x="0" y="465.455" width="24" height="15.145" fill="rgb(178,214,146)"/>
<rect x="0" y="480.000" width="24" height="15.145" fill="rgb(158,204,150)"/>
<rect x="0" y="494.545" width="24" height="15.145" fill="rgb(138,196,152)"/>
<rect x="0" y="509.091" width="24" height="15.145" fill="rgb(118,188,154)"/>
<rect x="0" y="523.636" width="24" height="15.145" fill="rgb(98,178,158)"/>
<rect x="0" y="538.182" width="24" height="15.145" fill="rgb(80,166,166)"/>
<rect x="0" y="552.727" width="24" height="15.145" fill="rgb(66,150,178)"/>
<rect x="0" y="567.273" width="24" height="15.145" fill="rgb(64,134,188)"/>
<rect x="0" y="581.818" width="24" height="15.145" fill="rgb(78,118,190)"/>
<rect x="0" y="596.364" width="24" height="15.145" fill="rgb(90,116,188)"/>
<rect x="0" y="610.909" width="24" height="15.145" fill="rgb(104,96,176)"/>
<rect x="0" y="625.455" width="24" height="15.145" fill="rgb(100,82,164)"/>
<rect x="0" y="640.000" width="24" height="15.145" fill="rgb(90,76,148)"/>
<rect x="0" y="654.545" width="24" height="15.145" fill="rgb(80,70,128)"/>
<rect x="0" y="669.091" width="24" height="15.145" fill="rgb(70,60,108)"/>
<rect x="0" y="683.636" width="24" height="15.145" fill="rgb(60,52,94)"/>
<rect x="0" y="698.182" width="24" height="15.145" fill="rgb(50,44,78)"/>
<rect x="0" y="712.727" width="24" height="15.145" fill="rgb(42,36,62)"/>
<rect x="0" y="727.273" width="24" height="15.145" fill="rgb(36,32,50)"/>
<rect x="0" y="741.818" width="24" height="15.145" fill="rgb(30,26,40)"/>
<rect x="0" y="756.364" width="24" height="15.145" fill="rgb(22,20,28)"/>
<rect x="0" y="770.909" width="24" height="15.145" fill="rgb(14,12,18)"/>
<rect x="0" y="785.455" width="24" height="15.145" fill="rgb(0,0,0)"/>
<rect x="0" y="0" width="24" height="800" fill="none" stroke="#000" stroke-width="2"/>
<line x1="25" y1="0.000" x2="35" y2="0.000" stroke="#000" stroke-width="2"/>
<text class="ct" transform="translate(42.3,9.9) scale(1,1.04)">45</text>
<line x1="25" y1="72.727" x2="35" y2="72.727" stroke="#000" stroke-width="2"/>
<text class="ct" transform="translate(42.3,82.63) scale(1,1.04)">40</text>
<line x1="25" y1="145.455" x2="35" y2="145.455" stroke="#000" stroke-width="2"/>
<text class="ct" transform="translate(42.3,155.35) scale(1,1.04)">35</text>
<line x1="25" y1="218.182" x2="35" y2="218.182" stroke="#000" stroke-width="2"/>
<text class="ct" transform="translate(42.3,228.08) scale(1,1.04)">30</text>
<line x1="25" y1="290.909" x2="35" y2="290.909" stroke="#000" stroke-width="2"/>
<text class="ct" transform="translate(42.3,300.81) scale(1,1.04)">25</text>
<line x1="25" y1="363.636" x2="35" y2="363.636" stroke="#000" stroke-width="2"/>
<text class="ct" transform="translate(42.3,373.54) scale(1,1.04)">20</text>
<line x1="25" y1="436.364" x2="35" y2="436.364" stroke="#000" stroke-width="2"/>
<text class="ct" transform="translate(42.3,446.26) scale(1,1.04)">15</text>
<line x1="25" y1="509.091" x2="35" y2="509.091" stroke="#000" stroke-width="2"/>
<text class="ct" transform="translate(42.3,518.99) scale(1,1.04)">10</text>
<line x1="25" y1="581.818" x2="35" y2="581.818" stroke="#000" stroke-width="2"/>
<text class="ct" transform="translate(42.3,591.72) scale(1,1.04)">5</text>
<line x1="25" y1="654.545" x2="35" y2="654.545" stroke="#000" stroke-width="2"/>
<text class="ct" transform="translate(42.3,664.45) scale(1,1.04)">0</text>
<line x1="25" y1="727.273" x2="35" y2="727.273" stroke="#000" stroke-width="2"/>
<text class="ct" transform="translate(42.3,737.17) scale(1,1.04)">−5</text>
<line x1="25" y1="800.000" x2="35" y2="800.000" stroke="#000" stroke-width="2"/>
<text class="ct" transform="translate(42.3,809.9) scale(1,1.04)">−10</text>
<text class="l" transform="translate(126.2,400) rotate(-90) scale(1,1.04)">dBZ</text>
</g>
</svg>
</body></html>
